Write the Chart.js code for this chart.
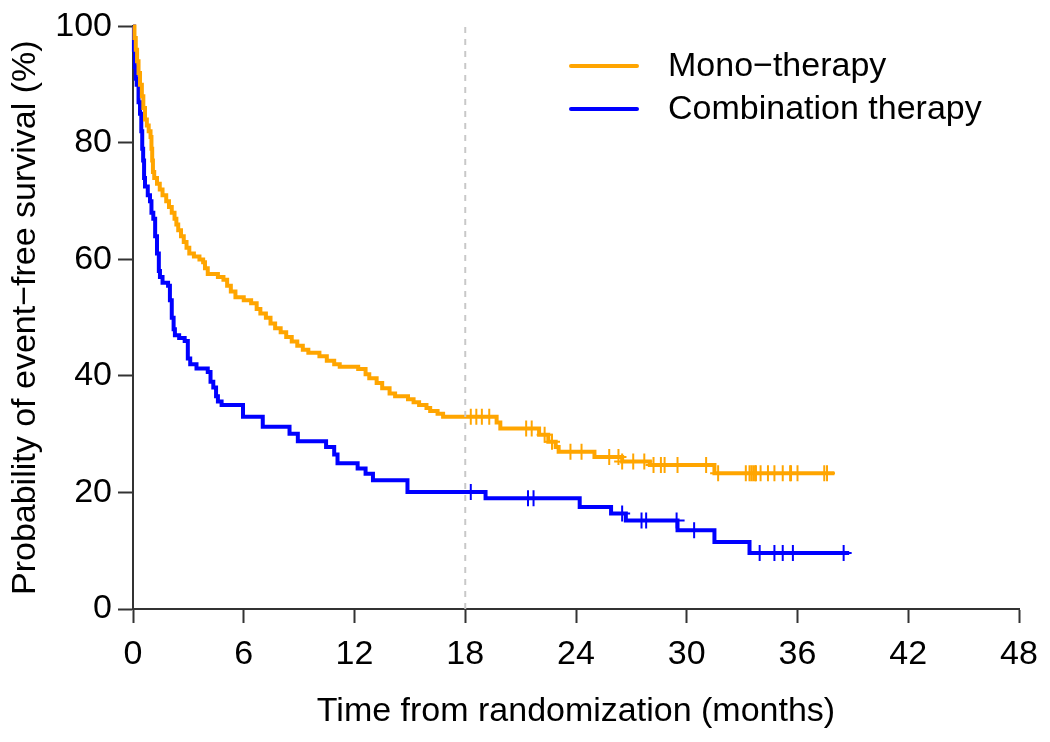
<!DOCTYPE html>
<html>
<head>
<meta charset="utf-8">
<script src="https://cdn.jsdelivr.net/npm/chart.js@4/dist/chart.umd.min.js"></script>
<style>
  html, body { margin: 0; padding: 0; background: #fff; }
  #wrap { width: 1050px; height: 742px; position: relative; }
</style>
</head>
<body>
<div id="wrap"><canvas id="km"></canvas></div>
<script>
// ---- data (months, % event-free) ----
const SERIES_LABELS = ['Mono\u2212therapy', 'Combination therapy'];

const MONO_TIME = [0, 0.08, 0.15, 0.22, 0.3, 0.38, 0.48, 0.56, 0.65, 0.75, 0.85, 0.95, 1.0, 1.04, 1.08,
  1.15, 1.3, 1.45, 1.6, 1.8, 1.95, 2.1, 2.25, 2.35, 2.45, 2.6, 2.75, 2.9, 3.05, 3.3, 3.6, 3.8, 3.9, 4.05,
  4.6, 4.9, 5.1, 5.3, 5.55, 6.0, 6.4, 6.7, 6.9, 7.2, 7.45, 7.7, 8.0, 8.3, 8.6, 8.9, 9.2, 9.5, 10.1, 10.5,
  10.9, 11.2, 12.2, 12.6, 12.8, 13.2, 13.5, 13.9, 14.2, 14.9, 15.2, 15.5, 15.9, 16.1, 16.5, 16.8,
  19.7, 19.9, 22.0, 22.5, 22.9, 23.06, 25.0, 26.5, 28.0, 31.5, 38.0];
const MONO_SURV = [100, 98, 96, 94, 92, 90, 88, 86, 84, 83, 82, 81, 79, 77, 75,
  74, 73, 72, 71, 70, 69, 68, 67, 66, 65, 64, 63, 62, 61, 60.5, 60, 59.5, 58.5, 57.5,
  57, 56.5, 55.5, 54.5, 53.5, 53, 52.5, 51.5, 50.7, 50, 49, 48.2, 47.5, 46.7, 45.9, 45.2, 44.5, 44, 43.4, 42.6,
  42, 41.6, 41.2, 40.3, 39.6, 38.8, 37.9, 37, 36.5, 36, 35.5, 35, 34.5, 34, 33.5, 33,
  32, 31, 29.9, 28.7, 27.8, 27, 26.1, 25.3, 24.7, 23.3, 23.3];
const MONO_CENS_TIME = [18.3, 18.6, 18.9, 19.3, 21.3, 21.6, 22.3, 22.7, 23.7, 24.3, 25.8, 26.3, 26.5, 27.1,
  27.7, 28.2, 28.6, 28.8, 29.5, 31.05, 31.7, 33.2, 33.4, 33.5, 33.6, 33.7, 33.75, 34.0, 34.4, 34.75, 35.2,
  35.6, 35.65, 36.0, 37.45, 37.6];
const MONO_CENS_SURV = [33, 33, 33, 33, 31, 31, 29.9, 28.7, 27, 27, 26.1, 26.1, 25.3, 25.3,
  25.3, 24.7, 24.7, 24.7, 24.7, 24.7, 23.3, 23.3, 23.3, 23.3, 23.3, 23.3, 23.3, 23.3, 23.3, 23.3, 23.3,
  23.3, 23.3, 23.3, 23.3, 23.3];

const COMBO_TIME = [0, 0.05, 0.1, 0.15, 0.2, 0.3, 0.38, 0.45, 0.5, 0.55, 0.6, 0.65, 0.8, 0.92, 1.0, 1.1,
  1.2, 1.3, 1.4, 1.46, 1.6, 1.9, 2.0, 2.1, 2.2, 2.27, 2.5, 2.8, 2.97, 3.1, 3.44, 4.05, 4.2, 4.35, 4.5, 4.6,
  4.8, 5.96, 7.03, 8.48, 8.93, 10.46, 10.9, 11.08, 12.17, 12.6, 13.0, 14.87, 19.1, 24.2, 25.9, 26.7,
  29.5, 31.5, 33.4, 38.8];
const COMBO_SURV = [100, 96, 93, 91, 90, 87, 85, 82, 79, 77, 74, 72.5, 71, 70, 68, 67,
  64, 61, 58, 57, 56, 55.5, 53, 50, 48, 47, 46.5, 46, 43, 42, 41.3, 40.7, 39, 38, 36.5, 35.6,
  35, 33, 31.3, 30.1, 28.8, 27.8, 26.5, 25, 24.1, 23.2, 22.1, 20.1, 19, 17.5, 16.4, 15.2,
  13.5, 11.5, 9.6, 9.6];
const COMBO_CENS_TIME = [18.3, 21.4, 21.7, 26.5, 27.55, 27.8, 29.45, 30.4, 33.95, 34.75, 35.2, 35.75, 38.5];
const COMBO_CENS_SURV = [20.1, 19, 19, 16.4, 15.2, 15.2, 15.2, 13.5, 9.6, 9.6, 9.6, 9.6, 9.6];

const LANDMARK_MONTH = 18;
const X_MIN = 0, X_MAX = 48, X_STEP = 6;
const Y_MIN = 0, Y_MAX = 100, Y_STEP = 20;

const ORANGE = '#FFA500';
const BLUE = '#0000FF';
const FONT = '"Liberation Sans", Arial, Helvetica, sans-serif';
const FS = 34;

const pts = (xs, ys) => xs.map((x, i) => ({ x: x, y: ys[i] }));

// legend drawn inside the plot, top right
const kmLegend = {
  id: 'kmLegend',
  afterDraw(chart) {
    const ctx = chart.ctx;
    const items = chart.data.datasets.filter(d => d.inLegend);
    ctx.save();
    ctx.font = FS + 'px ' + FONT;
    ctx.textBaseline = 'middle';
    items.forEach((d, i) => {
      const y = 66 + i * 43;
      ctx.strokeStyle = d.borderColor;
      ctx.lineWidth = 4;
      ctx.lineCap = 'round';
      ctx.beginPath(); ctx.moveTo(571, y); ctx.lineTo(637, y); ctx.stroke();
      ctx.fillStyle = '#000';
      ctx.fillText(d.label, 668, y + 1);
    });
    ctx.restore();
  }
};

const ctx = document.getElementById('km').getContext('2d');
new Chart(ctx, {
  type: 'scatter',
  data: {
    datasets: [
      {
        label: 'landmark',
        data: [{ x: LANDMARK_MONTH, y: Y_MIN }, { x: LANDMARK_MONTH, y: Y_MAX }],
        showLine: true, borderColor: '#c8c8c8', borderWidth: 2, borderDash: [6, 6],
        pointRadius: 0
      },
      {
        label: SERIES_LABELS[0], inLegend: true,
        data: pts(MONO_TIME, MONO_SURV),
        showLine: true, stepped: true, borderColor: ORANGE, borderWidth: 4,
        pointRadius: 0, clip: false
      },
      {
        label: SERIES_LABELS[1], inLegend: true,
        data: pts(COMBO_TIME, COMBO_SURV),
        showLine: true, stepped: true, borderColor: BLUE, borderWidth: 4,
        pointRadius: 0, clip: false
      },
      {
        label: 'mono censored',
        data: pts(MONO_CENS_TIME, MONO_CENS_SURV),
        pointStyle: 'cross', pointRadius: 8, pointBorderWidth: 2,
        borderColor: ORANGE, backgroundColor: ORANGE
      },
      {
        label: 'combo censored',
        data: pts(COMBO_CENS_TIME, COMBO_CENS_SURV),
        pointStyle: 'cross', pointRadius: 8, pointBorderWidth: 2,
        borderColor: BLUE, backgroundColor: BLUE
      }
    ]
  },
  options: {
    responsive: true,
    maintainAspectRatio: false,
    animation: false,
    layout: { padding: { left: 0, right: 31, top: 24, bottom: 0 } },
    plugins: { legend: { display: false }, tooltip: { enabled: false } },
    scales: {
      x: {
        type: 'linear', min: X_MIN, max: X_MAX,
        ticks: { stepSize: X_STEP, color: '#000', padding: 11, font: { family: FONT, size: FS } },
        grid: { drawOnChartArea: false, drawTicks: true, tickLength: 14, tickColor: '#333', tickWidth: 2 },
        border: { color: '#333', width: 2 },
        title: { display: true, text: 'Time from randomization (months)', color: '#000',
          font: { family: FONT, size: FS }, padding: { top: 0, bottom: 10 } },
        afterFit: s => { s.height = 133; }
      },
      y: {
        type: 'linear', min: Y_MIN, max: Y_MAX,
        ticks: { stepSize: Y_STEP, color: '#000', padding: 6, font: { family: FONT, size: FS } },
        grid: { drawOnChartArea: false, drawTicks: true, tickLength: 15, tickColor: '#333', tickWidth: 2 },
        border: { color: '#333', width: 2 },
        title: { display: true, text: 'Probability of event\u2212free survival (%)', color: '#000',
          font: { family: FONT, size: FS }, padding: { top: 5, bottom: 0 } },
        afterFit: s => { s.width = 133; }
      }
    }
  },
  plugins: [kmLegend]
});
</script>
</body>
</html>
